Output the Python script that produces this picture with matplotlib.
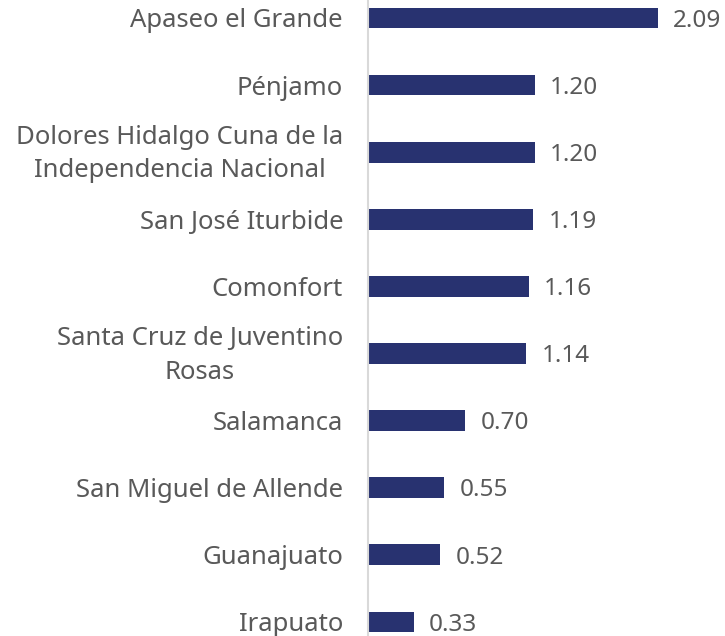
import matplotlib
matplotlib.use("AGG")
import matplotlib.pyplot as plt
import matplotlib.transforms as mtransforms

municipios = [
    "Apaseo el Grande",
    "Pénjamo",
    "Dolores Hidalgo Cuna de la\nIndependencia Nacional",
    "San José Iturbide",
    "Comonfort",
    "Santa Cruz de Juventino\nRosas",
    "Salamanca",
    "San Miguel de Allende",
    "Guanajuato",
    "Irapuato",
]
valores = [2.09, 1.20, 1.20, 1.19, 1.16, 1.14, 0.70, 0.55, 0.52, 0.33]

bar_color = "#283270"
text_color = "#595959"

plt.rcParams["font.family"] = ["Noto Sans", "DejaVu Sans"]

fig = plt.figure(figsize=(7.25, 6.36), dpi=100)
ax = fig.add_axes([368 / 725, 0, 1 - 368 / 725, 1])

pos = list(range(len(valores)))
ax.barh(pos, valores, height=0.31, color=bar_color)

for p, v in zip(pos, valores):
    ax.text(v + 0.11, p + 0.04, "%.2f" % v, va="center", ha="left",
            fontsize=17.5, color=text_color)

ax.set_yticks(pos)
ax.set_yticklabels(municipios, fontsize=18.5, color=text_color,
                   linespacing=1.45, multialignment="center")
ax.tick_params(axis="y", length=0, pad=18)
ax.set_xticks([])

# two-line labels sit a bit higher in the original
shift = mtransforms.ScaledTranslation(0, 4 / 72, fig.dpi_scale_trans)
for lbl in ax.get_yticklabels():
    if "\n" in lbl.get_text():
        lbl.set_transform(lbl.get_transform() + shift)

ax.set_xlim(0, 2.572)
ax.set_ylim(9.209, -0.268)

for s in ["top", "right", "bottom"]:
    ax.spines[s].set_visible(False)
ax.spines["left"].set_color("#d9d9d9")
ax.spines["left"].set_linewidth(1.5)

fig.savefig("out.png", dpi=100)
